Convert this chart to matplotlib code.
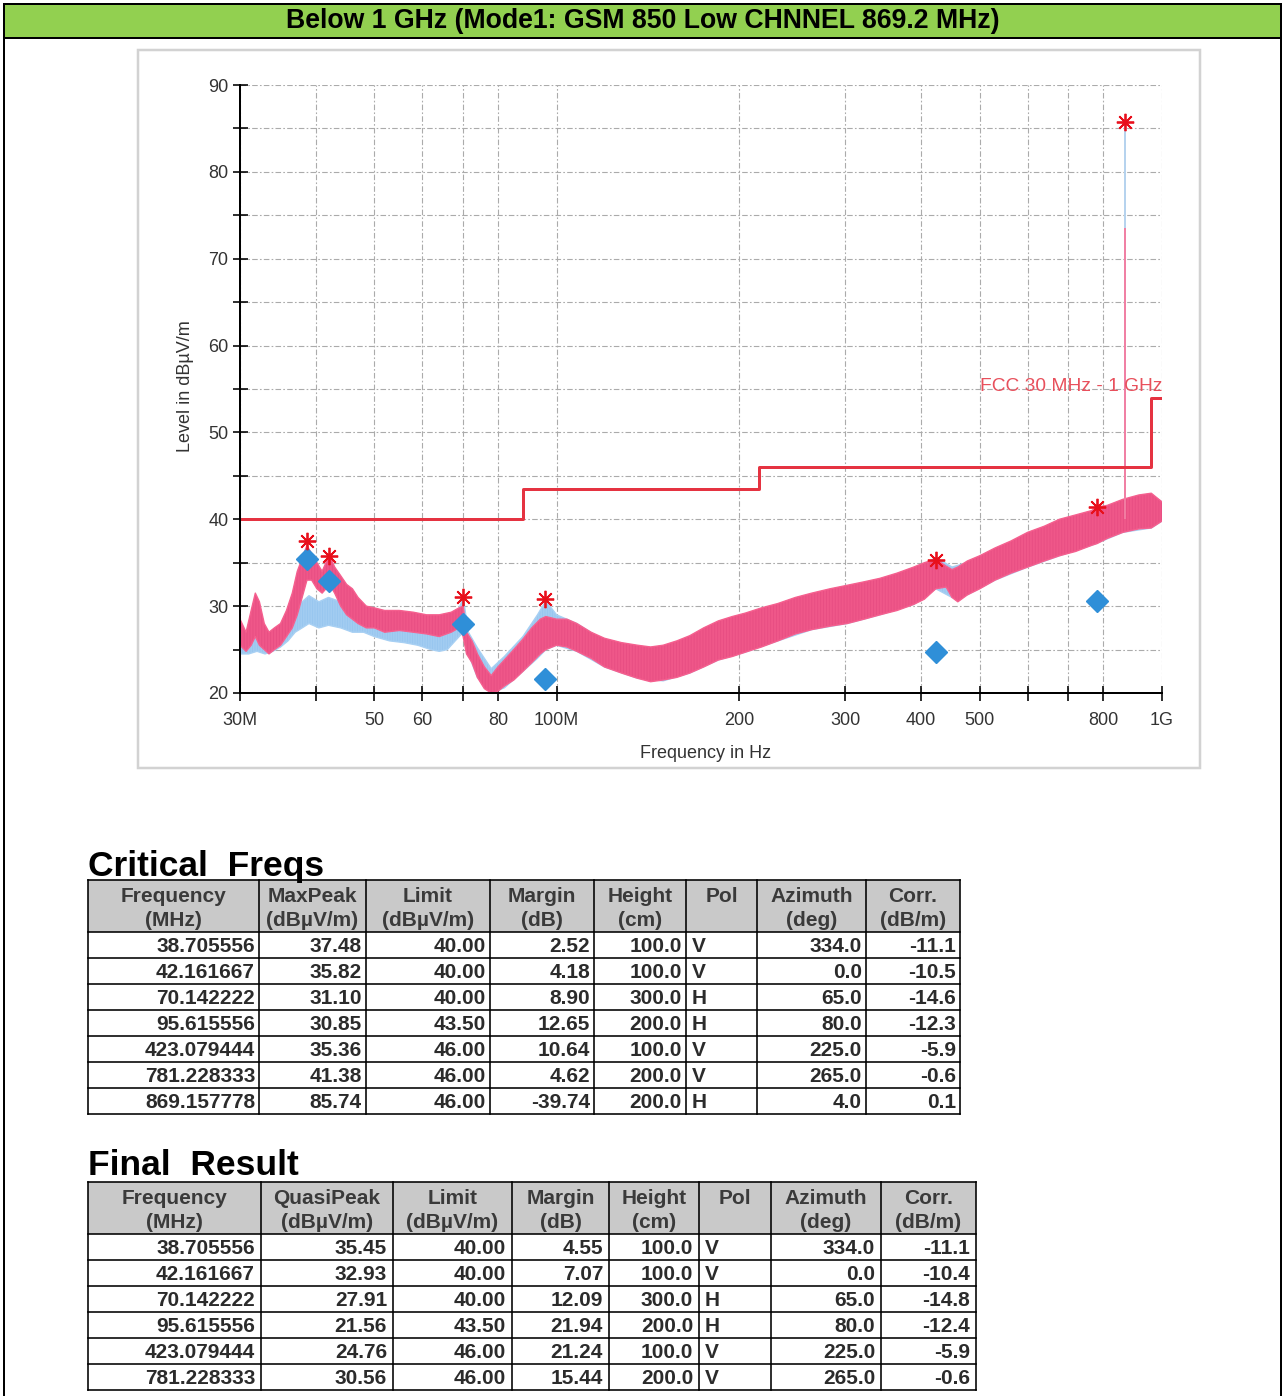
import numpy as np
import matplotlib
matplotlib.use("Agg")
import matplotlib.pyplot as plt
from matplotlib.patches import Rectangle
from matplotlib.ticker import FixedLocator, FixedFormatter, NullLocator

plt.rcParams['font.family'] = ['Liberation Sans', 'DejaVu Sans']
plt.rcParams['hatch.linewidth'] = 0.7

W, H, DPI = 1283, 1396, 100
PX = 72.0 / DPI  # one pixel in points

# ---------------- spectrum envelopes (MHz, dBuV/m) ----------------
pink_f = [30, 30.7, 31.3, 31.8, 32.3, 32.9, 33.5, 34.2, 35.0, 35.8, 36.6, 37.3, 38.0,
          38.7, 39.4, 40.2, 41.0, 41.6, 42.2, 43.0, 44.0, 45.0, 46.0, 47.0, 48.5, 50,
          52, 55, 58, 61, 64, 67, 69, 70.1, 71, 72.5, 74, 76, 78, 80, 82, 85, 88, 91,
          94, 96, 100, 104, 108, 114, 120, 128, 136, 143, 150, 158, 166, 175, 185,
          195, 205, 218, 232, 248, 264, 283, 302, 322, 342, 365, 389, 405, 423, 440,
          450, 460, 477, 500, 530, 563, 600, 639, 677, 720, 765, 781, 812, 862, 916,
          960, 1000]
pink_hi = [28.5, 27, 29.5, 31.5, 30.5, 28, 27, 27.5, 28, 29.5, 31.5, 34, 35.5,
           37, 36, 35, 34, 35, 35.8, 34.5, 33.5, 32.5, 32, 31, 30, 29.8,
           29.5, 29.5, 29.3, 29, 29, 29.3, 29.8, 30, 27, 26, 24.5, 23, 22, 23, 23.8, 25, 26.2, 27.5,
           28.5, 28.8, 28.5, 28.5, 28, 27, 26.3, 25.8, 25.5, 25.3, 25.5, 26, 26.6, 27.5, 28.3,
           28.8, 29.2, 29.8, 30.3, 31, 31.5, 32, 32.4, 32.8, 33.2, 33.8, 34.5, 35, 35.4, 34.6,
           34.2, 34.5, 35.2, 35.8, 36.7, 37.5, 38.5, 39.2, 40, 40.5, 41, 41.4, 41.6, 42.3, 42.8,
           43, 42]
pink_lo = [25.5, 24.8, 25.5, 26.5, 25.5, 25, 24.5, 25, 25.5, 26.5, 27.5, 29, 31,
           33, 33, 32, 31.5, 32, 32.5, 31.5, 30, 29, 28.5, 28, 27.5, 27.5,
           27, 27.2, 27, 26.8, 26.5, 27, 27.5, 26.5, 24.5, 23.5, 21.8, 20.5, 20, 20.2, 20.8, 21.5, 22.5, 23.5,
           24.5, 25, 25.5, 25.3, 24.8, 24, 23, 22.3, 21.7, 21.3, 21.5, 21.8, 22.3, 23, 23.8,
           24.2, 24.7, 25.3, 26, 26.8, 27.3, 27.7, 28, 28.5, 29, 29.5, 30.2, 30.8, 32, 32.2,
           31, 30.5, 31.3, 32, 33, 33.8, 34.5, 35.2, 35.8, 36.3, 37, 37.2, 37.8, 38.5, 38.9,
           39, 39.8]

blue_f = [30, 31, 32, 33, 34, 35, 36, 37, 38, 39, 40.5, 42, 44, 46, 48, 50, 53, 56,
          59, 62, 64, 66, 68, 70.1, 71.5, 74, 78, 82, 88, 93, 96, 100, 108, 120, 136,
          150, 166, 185, 205, 232, 264, 302, 342, 389, 423, 450, 477, 530, 600, 677,
          765, 862, 960, 1000]
blue_hi = [27, 26.5, 27, 26.5, 26.8, 27.5, 28.5, 29.5, 30.5, 31.2, 30.5, 31, 30.5, 30.2, 29.5, 28.8, 28.5, 28.2,
           28, 27.5, 27, 27.5, 28.5, 31, 27, 25.2, 22.8, 24.2, 26.5, 29, 30.6, 29, 28.0, 26.0, 25.2,
           25.2, 26.3, 28.0, 28.9, 30.0, 31.2, 32.1, 32.9, 34.2, 35.6, 34.5, 35.0, 36.4, 38.2, 39.8,
           40.8, 42.2, 42.8, 42.0]
blue_lo = [24.5, 24.5, 24.8, 24.5, 24.8, 25.3, 26, 27, 27.5, 28, 27.5, 27.8, 27.5, 27, 27, 26.5, 26, 25.8,
           25.5, 25, 24.8, 25, 26, 27, 24.5, 21.8, 20, 20.6, 22.5, 24, 25, 25.5, 24.8, 23, 21.7,
           21.4, 22.3, 23.8, 24.7, 26, 27.3, 28, 29, 30.2, 32, 31, 31.3, 33, 34.5, 35.8,
           37, 38.5, 39, 39.8]

# carrier spike at 869.2 MHz
spike_f = 869.157778
spike_pink_top = 73.5

# FCC limit (step function)
limit_edges = [30, 88, 216, 960, 1000]
limit_levels = [40, 43.5, 46, 54]

# ---------------- tables ----------------
crit_freq = ["38.705556", "42.161667", "70.142222", "95.615556", "423.079444", "781.228333", "869.157778"]
crit_maxpeak = [37.48, 35.82, 31.10, 30.85, 35.36, 41.38, 85.74]
crit_limit = [40.00, 40.00, 40.00, 43.50, 46.00, 46.00, 46.00]
crit_margin = [2.52, 4.18, 8.90, 12.65, 10.64, 4.62, -39.74]
crit_height = [100.0, 100.0, 300.0, 200.0, 100.0, 200.0, 200.0]
crit_pol = ["V", "V", "H", "H", "V", "V", "H"]
crit_azimuth = [334.0, 0.0, 65.0, 80.0, 225.0, 265.0, 4.0]
crit_corr = [-11.1, -10.5, -14.6, -12.3, -5.9, -0.6, 0.1]

final_freq = ["38.705556", "42.161667", "70.142222", "95.615556", "423.079444", "781.228333"]
final_qp = [35.45, 32.93, 27.91, 21.56, 24.76, 30.56]
final_limit = [40.00, 40.00, 40.00, 43.50, 46.00, 46.00]
final_margin = [4.55, 7.07, 12.09, 21.94, 21.24, 15.44]
final_height = [100.0, 100.0, 300.0, 200.0, 100.0, 200.0]
final_pol = ["V", "V", "H", "H", "V", "V"]
final_azimuth = [334.0, 0.0, 65.0, 80.0, 225.0, 265.0]
final_corr = [-11.1, -10.4, -14.8, -12.4, -5.9, -0.6]

x_ticks_mhz = [30, 40, 50, 60, 70, 80, 100, 200, 300, 400, 500, 600, 700, 800, 1000]
x_tick_labels = ["30M", "", "50", "60", "", "80", "100M", "200", "300", "400", "500", "", "", "800", "1G"]
y_ticks = list(range(20, 91, 5))
y_tick_labels = [str(v) if v % 10 == 0 else "" for v in y_ticks]

# ---------------- figure ----------------
fig = plt.figure(figsize=(W / DPI, H / DPI), dpi=DPI)
fig.patch.set_facecolor("white")
page = fig.add_axes([0, 0, 1, 1])
page.set_xlim(0, W)
page.set_ylim(H, 0)
page.axis("off")

# outer frame and title band
page.plot([4, 4], [4, H], color="black", lw=2 * PX)
page.plot([1281, 1281], [4, H], color="black", lw=2 * PX)
page.add_patch(Rectangle((4, 4), 1277, 34, fc="#92D050", ec="black", lw=2 * PX))
page.text(643, 21, "Below 1 GHz (Mode1: GSM 850 Low CHNNEL 869.2 MHz)", ha="center", va="center",
          fontsize=19.2, fontweight="bold", color="black")

# chart panel
page.add_patch(Rectangle((138, 50), 1062, 718, fc="white", ec="#d2d2d2", lw=2.5 * PX))

ax = fig.add_axes([240 / W, (H - 693) / H, 922 / W, 608 / H])
ax.patch.set_alpha(0)
ax.set_xscale("log")
ax.set_xlim(30e6, 1000e6)
ax.set_ylim(20, 90)

mhz = 1e6
bf = np.array(blue_f) * mhz
pf = np.array(pink_f) * mhz
blue_c = "#a8d0f3"
pink_c = "#f5608f"
ax.fill_between(bf, blue_lo, blue_hi, facecolor=blue_c, edgecolor="#98c6ef", hatch="|" * 10,
                lw=0, zorder=2)
ax.plot(bf, blue_hi, color=blue_c, lw=1.0, zorder=2)
ax.plot(bf, blue_lo, color=blue_c, lw=1.0, zorder=2)
# vertical striation gives the band the look of a dense swept trace
ax.fill_between(pf, pink_lo, pink_hi, facecolor=pink_c, edgecolor="#e84e83", hatch="|" * 11,
                lw=0, zorder=3)
ax.plot(pf, pink_hi, color=pink_c, lw=1.0, zorder=3)
ax.plot(pf, pink_lo, color=pink_c, lw=1.0, zorder=3)

ax.vlines(spike_f * mhz, 40, crit_maxpeak[-1], color="#b4d2ee", lw=1.4, zorder=2)
ax.vlines(spike_f * mhz, 40, spike_pink_top, color="#f27ea2", lw=1.4, zorder=3)

# limit line
lim_x = np.array(limit_edges) * mhz
lim_y = limit_levels + [limit_levels[-1]]
ax.step(lim_x, lim_y, where="post", color="#e53341", lw=3 * PX, zorder=4)
ax.text(1000e6, 55.3, "FCC 30 MHz - 1 GHz", ha="right", va="center", fontsize=13.8,
        color="#e8505c", zorder=4)

# markers
crit_f = np.array([float(v) for v in crit_freq]) * mhz
fin_f = np.array([float(v) for v in final_freq]) * mhz
ax.plot(fin_f, final_qp, ls="none", marker="D", ms=11, color="#2f8fd8", mec="#2f8fd8", zorder=5)
ax.plot(crit_f, crit_maxpeak, ls="none", marker=(8, 2, 0), ms=12.5, mec="#e8101c", mew=1.3, zorder=6)

# axes styling
ax.xaxis.set_major_locator(FixedLocator([v * mhz for v in x_ticks_mhz]))
ax.xaxis.set_major_formatter(FixedFormatter(x_tick_labels))
ax.xaxis.set_minor_locator(NullLocator())
ax.yaxis.set_major_locator(FixedLocator(y_ticks))
ax.yaxis.set_major_formatter(FixedFormatter(y_tick_labels))
ax.tick_params(axis="both", direction="inout", length=15 * PX, width=1.6 * PX,
               color="black", labelcolor="#333333", labelsize=13)
ax.tick_params(axis="x", pad=8)
ax.tick_params(axis="y", pad=3)
ax.grid(True, color="#ababab", lw=0.8, linestyle=(0, (5, 2, 1.5, 2)), zorder=1)
ax.set_axisbelow(True)
for s in ("top", "right"):
    ax.spines[s].set_visible(False)
for s in ("left", "bottom"):
    ax.spines[s].set_linewidth(2 * PX)
    ax.spines[s].set_color("black")
    ax.spines[s].set_zorder(7)

page.text(706, 753, "Frequency in Hz", ha="center", va="center", fontsize=13, color="#333333")
page.text(186, 386, "Level in dB\u00b5V/m", ha="center", va="center", rotation=90,
          fontsize=13, color="#333333")


# ---------------- tables ----------------
def draw_table(title, title_y, edges, top, headers, columns, left_cols=(), pad=5):
    page.text(edges[0], title_y, title, ha="left", va="baseline", fontsize=25.5,
              fontweight="bold", color="black")
    head_h, row_h = 52, 26
    nrows = len(columns[0])
    bottom = top + head_h + nrows * row_h
    page.add_patch(Rectangle((edges[0], top), edges[-1] - edges[0], head_h,
                             fc="#c9c9c9", ec="none", zorder=1))
    lw = 1.6 * PX
    for x in edges:
        page.plot([x, x], [top, bottom], color="black", lw=lw, zorder=3)
    for r in range(nrows + 1):
        y = top + head_h + r * row_h
        page.plot([edges[0], edges[-1]], [y, y], color="black", lw=lw, zorder=3)
    page.plot([edges[0], edges[-1]], [top, top], color="black", lw=lw, zorder=3)
    for c, (l1, l2) in enumerate(headers):
        xc = (edges[c] + edges[c + 1]) / 2
        page.text(xc, top + 16, l1, ha="center", va="center", fontsize=15, fontweight="bold",
                  color="#3a3a3a", zorder=4)
        page.text(xc, top + 40, l2, ha="center", va="center", fontsize=15, fontweight="bold",
                  color="#3a3a3a", zorder=4)
    for c, col in enumerate(columns):
        for r, val in enumerate(col):
            yc = top + head_h + r * row_h + row_h / 2 + 1
            if c in left_cols:
                page.text(edges[c] + 6, yc, val, ha="left", va="center", fontsize=15,
                          fontweight="bold", color="#2b2b2b", zorder=4)
            else:
                page.text(edges[c + 1] - pad, yc, val, ha="right", va="center", fontsize=15,
                          fontweight="bold", color="#2b2b2b", zorder=4)


def f2(v):
    return f"{v:.2f}"


def f1(v):
    return f"{v:.1f}"


crit_headers = [("Frequency", "(MHz)"), ("MaxPeak", "(dB\u00b5V/m)"), ("Limit", "(dB\u00b5V/m)"),
                ("Margin", "(dB)"), ("Height", "(cm)"), ("Pol", ""), ("Azimuth", "(deg)"),
                ("Corr.", "(dB/m)")]
draw_table("Critical  Freqs", 876, [88, 259, 366, 490, 594, 686, 757, 866, 960], 880, crit_headers,
           [crit_freq, [f2(v) for v in crit_maxpeak], [f2(v) for v in crit_limit],
            [f2(v) for v in crit_margin], [f1(v) for v in crit_height], crit_pol,
            [f1(v) for v in crit_azimuth], [f1(v) for v in crit_corr]], left_cols=(5,), pad=4)

final_headers = [("Frequency", "(MHz)"), ("QuasiPeak", "(dB\u00b5V/m)"), ("Limit", "(dB\u00b5V/m)"),
                 ("Margin", "(dB)"), ("Height", "(cm)"), ("Pol", ""), ("Azimuth", "(deg)"),
                 ("Corr.", "(dB/m)")]
draw_table("Final  Result", 1175, [88, 261, 393, 512, 609, 699, 771, 881, 976], 1182, final_headers,
           [final_freq, [f2(v) for v in final_qp], [f2(v) for v in final_limit],
            [f2(v) for v in final_margin], [f1(v) for v in final_height], final_pol,
            [f1(v) for v in final_azimuth], [f1(v) for v in final_corr]], left_cols=(5,), pad=6)

fig.savefig("out.png", dpi=DPI, facecolor="white")
